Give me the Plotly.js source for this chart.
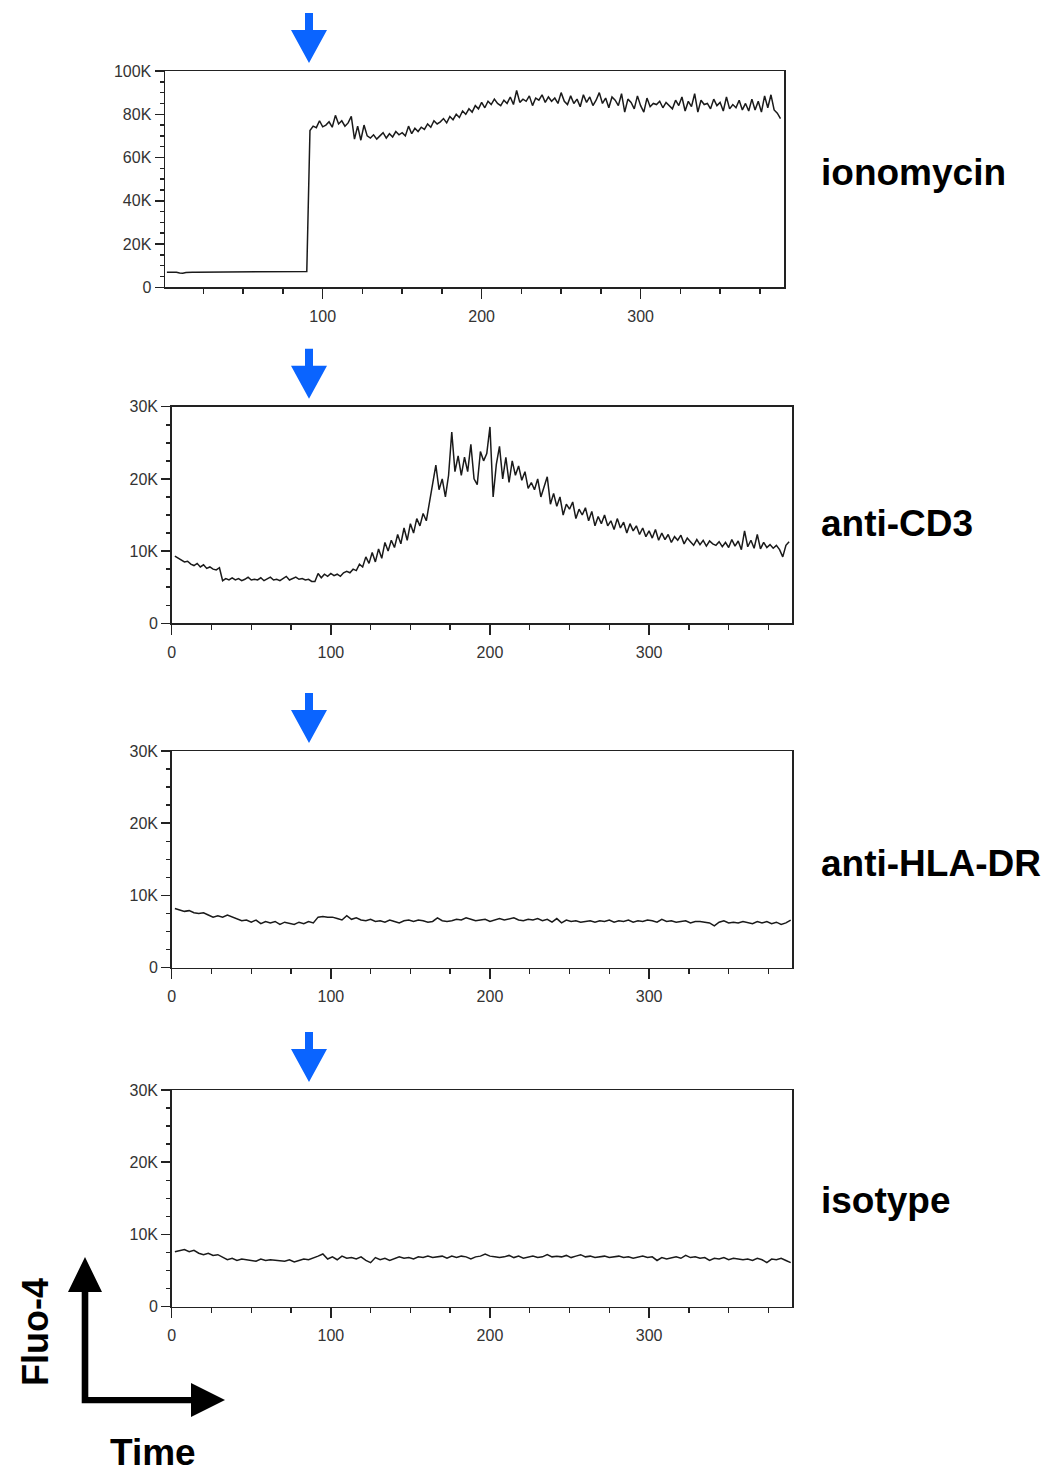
<!DOCTYPE html>
<html>
<head>
<meta charset="utf-8">
<script src="https://cdn.plot.ly/plotly-3.0.1.min.js"></script>
<style>html,body{margin:0;padding:0;background:#fff;}#chart{width:1051px;height:1474px;}</style>
</head>
<body>
<div id="chart"></div>
<script>
// ---------- DATA (Fluo-4 fluorescence, in thousands) ----------
const panelNames = ["ionomycin", "anti-CD3", "anti-HLA-DR", "isotype"];

// ionomycin: time step 2, starting at t = 2
const ionoStart = 2, ionoStep = 2;
const ionomycin = [
  7.0,7.0,7.0,7.0,6.6,6.5,6.8,7.0,7.0,7.0,
  7.0,7.0,7.0,7.0,7.0,7.0,7.0,7.0,7.0,7.1,
  7.0,7.0,7.2,7.3,7.1,7.3,7.0,7.2,7.3,7.0,
  7.1,7.3,7.2,7.0,7.3,7.2,7.2,7.0,7.3,7.0,
  7.2,7.3,7.0,7.2,7.3,72.5,74.5,73.8,77.0,74.2,
  75.0,76.5,74.0,79.5,75.5,77.0,74.5,76.0,79.0,68.5,
  74.5,68.0,75.0,70.0,69.0,70.5,68.5,70.0,71.5,69.0,
  71.0,69.5,72.0,70.5,71.5,70.0,74.5,71.0,73.5,72.0,
  74.0,73.0,75.5,74.0,77.0,75.5,76.5,78.0,76.0,79.0,
  77.5,80.0,78.5,81.5,80.0,82.5,81.0,84.0,82.5,85.5,
  83.0,86.0,84.5,87.0,85.0,84.0,86.5,85.0,88.0,84.5,
  91.0,85.5,87.0,86.0,88.5,84.0,87.5,86.5,89.0,85.5,
  88.0,86.0,87.5,85.0,90.0,86.0,84.5,88.5,85.0,87.0,
  83.5,89.0,85.5,88.0,84.0,86.5,90.0,85.0,87.5,83.0,
  88.0,86.5,84.0,89.5,81.0,87.0,85.5,82.5,88.5,84.0,
  81.0,87.5,83.5,85.0,84.5,86.0,83.0,85.5,84.0,82.5,
  86.5,84.0,88.0,81.5,86.0,83.5,89.5,81.0,86.5,84.5,
  85.0,82.5,87.0,84.0,85.5,81.5,88.0,82.5,84.5,83.0,
  86.5,82.0,85.0,81.5,87.0,82.0,86.0,81.0,88.5,83.0,
  89.0,82.0,80.5,78.0
];

// anti-CD3: time step 2, starting at t = 2
const cd3Start = 2, cd3Step = 2;
const antiCD3 = [
  9.3,9.0,8.8,8.5,8.6,8.2,8.0,8.3,7.8,8.1,
  7.6,7.8,7.5,7.4,7.7,5.9,6.2,6.0,6.3,6.0,
  6.2,5.9,6.1,6.4,6.0,6.1,6.0,6.3,5.9,6.2,
  6.4,6.0,6.1,5.9,6.2,6.5,6.0,6.2,6.4,6.1,
  6.2,6.0,6.1,5.8,5.8,6.9,6.3,6.8,6.5,6.9,
  6.6,6.8,6.5,7.0,7.2,7.0,7.5,7.3,8.2,7.8,
  9.2,8.3,9.8,8.5,10.3,9.0,11.2,10.0,11.5,10.5,
  12.3,11.0,13.2,11.5,13.8,12.5,14.5,13.5,15.2,14.2,
  16.8,19.5,21.9,18.5,20.0,17.5,20.5,26.5,21.0,23.2,
  20.5,23.0,21.0,24.8,20.0,19.2,23.8,22.5,23.5,27.2,
  17.5,22.0,24.5,20.0,23.0,19.5,22.5,20.5,21.8,19.8,
  21.0,18.7,19.5,18.5,20.0,17.5,18.8,20.3,16.5,18.0,
  16.2,17.5,15.0,16.5,15.8,16.8,14.5,15.8,15.0,16.0,
  14.2,15.5,13.5,14.8,13.8,15.0,13.5,14.2,13.0,14.5,
  13.2,14.0,12.5,13.8,12.8,13.5,12.3,13.2,12.0,12.8,
  11.8,13.0,11.5,12.5,11.6,12.3,11.2,12.0,11.5,12.2,
  11.0,11.8,11.3,10.8,11.6,10.9,11.5,10.7,11.4,11.0,
  10.8,11.3,10.6,11.2,10.5,11.6,10.7,11.4,10.2,12.8,
  10.6,11.5,10.4,12.3,10.3,11.2,10.5,10.9,10.4,10.8,
  10.2,9.2,10.8,11.3
];

// anti-HLA-DR: time step 3, starting at t = 2
const hlaStart = 2, hlaStep = 3;
const antiHLADR = [
  8.2,8.0,7.8,7.9,7.6,7.5,7.6,7.3,7.0,7.2,
  7.0,7.3,7.0,6.7,6.5,6.6,6.3,6.6,6.1,6.4,
  6.2,6.4,6.0,6.3,6.2,6.0,6.3,6.1,6.4,6.2,
  7.0,7.1,7.0,7.0,6.8,6.6,7.2,6.7,6.9,6.6,
  6.5,6.7,6.4,6.5,6.3,6.6,6.4,6.2,6.5,6.6,
  6.4,6.6,6.5,6.3,6.4,6.9,6.5,6.4,6.5,6.7,
  6.6,6.9,6.7,6.5,6.6,6.7,6.4,6.6,6.8,6.6,
  6.7,6.9,6.6,6.5,6.7,6.6,6.8,6.5,6.7,6.3,
  6.8,6.2,6.6,6.4,6.5,6.3,6.4,6.5,6.3,6.5,
  6.4,6.6,6.3,6.5,6.4,6.6,6.3,6.5,6.4,6.6,
  6.5,6.3,6.7,6.4,6.5,6.3,6.4,6.5,6.2,6.4,
  6.4,6.3,6.2,5.8,6.3,6.5,6.2,6.3,6.2,6.4,
  6.3,6.1,6.4,6.2,6.4,6.1,6.3,6.0,6.2,6.6
];

// isotype: time step 3, starting at t = 2
const isoStart = 2, isoStep = 3;
const isotype = [
  7.6,7.7,7.9,7.6,7.8,7.4,7.2,7.4,7.1,7.2,
  6.8,6.5,6.7,6.4,6.6,6.5,6.5,6.3,6.6,6.4,
  6.5,6.4,6.4,6.3,6.5,6.2,6.4,6.6,6.5,6.7,
  7.0,7.3,6.6,6.9,6.5,7.0,6.7,6.8,6.6,6.9,
  6.4,6.1,6.8,6.5,6.7,6.4,6.6,6.9,6.7,6.8,
  6.6,6.9,6.8,7.0,6.8,6.9,7.0,6.7,7.0,6.8,
  7.0,6.9,6.6,6.9,7.0,7.3,7.0,6.9,6.8,6.9,
  7.1,6.8,7.0,6.7,6.9,7.0,6.8,6.9,7.2,6.9,
  7.0,6.9,7.1,6.8,7.0,7.2,6.9,7.0,6.8,6.9,
  7.0,6.8,6.9,7.0,6.8,6.9,6.7,6.9,7.0,6.8,
  6.9,6.4,6.8,6.6,6.8,6.9,6.7,7.1,6.8,6.9,
  6.7,6.8,6.4,6.7,6.6,6.8,6.5,6.7,6.6,6.5,
  6.6,6.4,6.7,6.5,6.1,6.6,6.5,6.7,6.4,6.1
];

// tick labels
const xTickVals = [0, 100, 200, 300];
const xTickText = ["0", "100", "200", "300"];
const yTickVals1 = [0, 20, 40, 60, 80, 100];
const yTickText1 = ["0", "20K", "40K", "60K", "80K", "100K"];
const yTickVals2 = [0, 10, 20, 30];
const yTickText2 = ["0", "10K", "20K", "30K"];

// ---------- LAYOUT (pixel geometry) ----------
const W = 1051, H = 1474;
const px = x => x / W;
const py = y => 1 - y / H;
// panels: [left, right, top, bottom] in pixels
const panels = [
  {l: 165, r: 784, t: 71, b: 287.3, xr: [0.8, 390.2], yr: [0, 100], tv: yTickVals1, tt: yTickText1, minorY: 5},
  {l: 171.7, r: 792.3, t: 406.7, b: 623.3, xr: [0, 390], yr: [0, 30], tv: yTickVals2, tt: yTickText2, minorY: 2.5},
  {l: 171.7, r: 792.3, t: 751, b: 967.7, xr: [0, 390], yr: [0, 30], tv: yTickVals2, tt: yTickText2, minorY: 2.5},
  {l: 171.7, r: 792.3, t: 1090, b: 1306.7, xr: [0, 390], yr: [0, 30], tv: yTickVals2, tt: yTickText2, minorY: 2.5}
];
const series = [
  {y: ionomycin, x0: ionoStart, dx: ionoStep},
  {y: antiCD3, x0: cd3Start, dx: cd3Step},
  {y: antiHLADR, x0: hlaStart, dx: hlaStep},
  {y: isotype, x0: isoStart, dx: isoStep}
];
const labelY = [173, 523, 863, 1200];

const axCol = '#222';
const tickFont = {family: 'Liberation Sans, Arial, sans-serif', size: 16, color: '#333'};
const labelFont = {family: 'Liberation Sans, Arial, sans-serif', size: 37, color: '#000'};
const traces = [];
const layout = {
  width: W, height: H,
  margin: {l: 0, r: 0, t: 0, b: 0, pad: 0},
  paper_bgcolor: '#fff', plot_bgcolor: '#fff',
  showlegend: false,
  shapes: [], annotations: []
};

panels.forEach((p, i) => {
  const n = i === 0 ? '' : String(i + 1);
  traces.push({
    type: 'scatter', mode: 'lines',
    y: series[i].y, x0: series[i].x0, dx: series[i].dx,
    xaxis: 'x' + n, yaxis: 'y' + n,
    line: {color: '#1a1a1a', width: 1.5},
    hoverinfo: 'skip'
  });
  layout['xaxis' + n] = {
    domain: [px(p.l), px(p.r)], range: p.xr, anchor: 'y' + n,
    tickmode: 'array', tickvals: xTickVals, ticktext: xTickText,
    ticks: 'outside', ticklen: 10, tickwidth: 1.5, tickcolor: axCol,
    ticklabelstandoff: 4,
    minor: {tickmode: 'linear', tick0: 0, dtick: 25, ticks: 'outside', ticklen: 5, tickwidth: 1.5, tickcolor: axCol, showgrid: false},
    showline: true, linecolor: axCol, linewidth: 1.5, mirror: true,
    showgrid: false, zeroline: false, tickfont: tickFont, fixedrange: true
  };
  layout['yaxis' + n] = {
    domain: [py(p.b), py(p.t)], range: p.yr, anchor: 'x' + n,
    tickmode: 'array', tickvals: p.tv, ticktext: p.tt,
    ticks: 'outside', ticklen: 9, tickwidth: 1.5, tickcolor: axCol,
    minor: {tickmode: 'linear', tick0: 0, dtick: p.minorY, ticks: 'outside', ticklen: 4, tickwidth: 1.5, tickcolor: axCol, showgrid: false},
    showline: true, linecolor: axCol, linewidth: 1.5, mirror: true,
    showgrid: false, zeroline: false, tickfont: tickFont, fixedrange: true
  };
  // blue stimulus arrow
  const T = p.t - 8, cx = 309;
  const pts = [[cx - 4, T - 50], [cx + 4, T - 50], [cx + 4, T - 33], [cx + 18, T - 33], [cx, T], [cx - 18, T - 33], [cx - 4, T - 33]];
  layout.shapes.push({
    type: 'path', xref: 'paper', yref: 'paper',
    path: 'M' + pts.map(q => px(q[0]) + ',' + py(q[1])).join(' L') + ' Z',
    fillcolor: '#0a64ff', line: {width: 0}
  });
  // condition label
  layout.annotations.push({
    xref: 'paper', yref: 'paper', x: px(819), y: py(labelY[i]),
    xanchor: 'left', yanchor: 'middle', showarrow: false,
    text: '<b>' + panelNames[i] + '</b>',
    font: labelFont
  });
});

// axis-key arrows (bottom left)
const key = [[81.7, 1292], [68, 1292], [85, 1257], [102, 1292], [88.3, 1292], [88.3, 1397], [191, 1397], [191, 1383], [225, 1400], [191, 1417], [191, 1403.3], [81.7, 1403.3]];
layout.shapes.push({
  type: 'path', xref: 'paper', yref: 'paper',
  path: 'M' + key.map(q => px(q[0]) + ',' + py(q[1])).join(' L') + ' Z',
  fillcolor: '#000', line: {width: 0}
});
layout.annotations.push({
  xref: 'paper', yref: 'paper', x: px(35), y: py(1332), textangle: -90,
  xanchor: 'center', yanchor: 'middle', showarrow: false,
  text: '<b>Fluo-4</b>', font: {family: 'Liberation Sans, Arial, sans-serif', size: 36, color: '#000'}
});
layout.annotations.push({
  xref: 'paper', yref: 'paper', x: px(153), y: py(1452),
  xanchor: 'center', yanchor: 'middle', showarrow: false,
  text: '<b>Time</b>', font: labelFont
});

Plotly.newPlot('chart', traces, layout, {staticPlot: true, displayModeBar: false});
</script>
</body>
</html>
